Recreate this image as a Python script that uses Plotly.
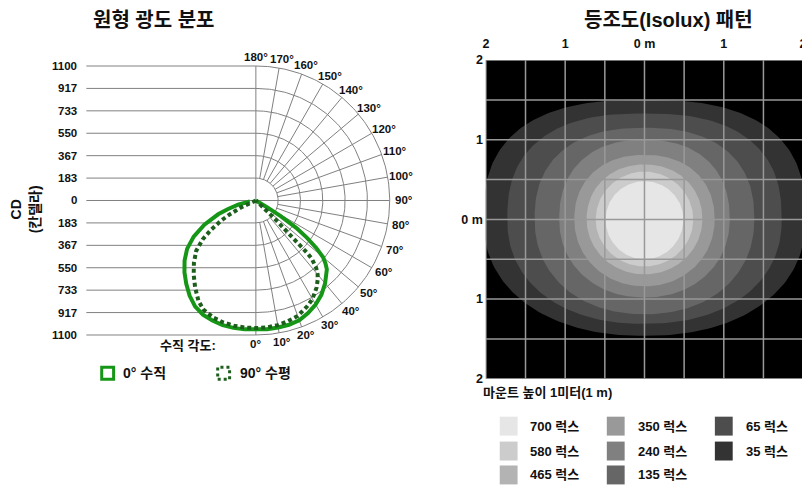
import numpy as np
import plotly.graph_objects as go

W, H = 810, 488
OX, OY = 8, 8          # page body margin offset
SY, AY = 0.975, 5.0    # measured vertical mapping of the photographed page
FONT = "Arial, 'Liberation Sans', 'Noto Sans CJK KR', sans-serif"

# ---------------- Data: luminous intensity distribution (left) ----------------
ring_cd = [183.3, 366.7, 550.0, 733.3, 916.7, 1100.0]
cd_tick_values = [1100, 916.7, 733.3, 550, 366.7, 183.3, 0, -183.3, -366.7, -550, -733.3, -916.7, -1100]
cd_tick_labels = ["1100", "917", "733", "550", "367", "183", "0", "183", "367", "550", "733", "917", "1100"]
angle_ticks = [0, 10, 20, 30, 40, 50, 60, 70, 80, 90, 100, 110, 120, 130, 140, 150, 160, 170, 180]

# 0° vertical plane (negative angle = left half)
vert_angle = [-80, -77, -73, -70, -65, -60, -55, -50, -45, -40, -35, -30, -25, -20, -15, -10, -5, 0,
              5, 10, 15, 20, 25, 30, 35, 40, 44, 46, 48, 50, 52, 54, 56, 58, 59, 60]
vert_cd = [50, 150, 243, 330, 467, 590, 690, 765, 830, 890, 950, 1000, 1030, 1045, 1055, 1058, 1058, 1057,
           1057, 1055, 1052, 1042, 1015, 982, 940, 885, 838, 811, 770, 720, 630, 520, 400, 240, 110, 0]

# 90° horizontal plane
horiz_angle = [-68, -65, -62, -60, -57, -54, -50, -45, -40, -35, -30, -26, -20, -15, -10, -5, 0,
               5, 10, 15, 20, 26, 30, 35, 38, 40, 42, 43, 44, 44.5, 45, 45.5, 46, 46.5, 47]
horiz_cd = [0, 136, 250, 332, 440, 540, 640, 720, 795, 870, 945, 990, 1020, 1033, 1040, 1043, 1043,
            1042, 1035, 1022, 1005, 963, 930, 870, 825, 790, 740, 705, 660, 600, 480, 350, 220, 90, 0]

# ---------------- Data: isolux pattern (right) ----------------
iso_levels = [700, 580, 465, 350, 240, 135, 65, 35]
iso_colors = ["#e6e6e6", "#cccccc", "#b3b3b3", "#999999", "#808080", "#666666", "#4d4d4d", "#333333"]
iso_half_width = [0.49, 0.615, 0.73, 0.885, 1.075, 1.385, 1.73, 2.03]
iso_top = [0.48, 0.60, 0.69, 0.81, 1.00, 1.15, 1.33, 1.50]
iso_bottom = [-0.50, -0.59, -0.69, -0.84, -0.98, -1.19, -1.31, -1.46]
iso_top_shape = [2.0, 2.0, 2.1, 2.2, 2.3, 2.4, 2.5, 2.6]
iso_bottom_shape = [2.0, 2.0, 2.0, 2.05, 2.1, 2.15, 2.2, 2.2]
iso_ticks = [-2, -1, 0, 1, 2]
iso_tick_labels = ["2", "1", "0 m", "1", "2"]
iso_grid = [-2, -1.5, -1, -0.5, 0, 0.5, 1, 1.5, 2]

# ---------------- Geometry helpers (screen pixels) ----------------
CX, CY, R_PX = 255, 199, 135.0
K = R_PX / 1100.0  # screen px per cd


def pxx(x):
    return (x - OX) / W


def pxy(y):
    return 1 - ((y - AY) / SY - OY) / H


def polar_xy(angles, cds):
    a = np.radians(np.asarray(angles, dtype=float))
    r = np.asarray(cds, dtype=float)
    return r * np.sin(a), -r * np.cos(a)


fig = go.Figure()

# ---- left grid ----
GRID = "#808080"
grid_left_x = (84 - CX) / K
gx, gy = [], []
for v in cd_tick_values:
    gx += [grid_left_x, 1100 if v == 0 else 0, None]
    gy += [v, v, None]
gx += [0, 0, None]
gy += [-1100, 1100, None]
th = np.radians(np.linspace(0, 180, 181))
for r in ring_cd:
    gx += list(r * np.sin(th)) + [None]
    gy += list(-r * np.cos(th)) + [None]
for a in angle_ticks:
    if a in (0, 90, 180):
        continue
    t = np.radians(a)
    gx += [ring_cd[0] * np.sin(t), ring_cd[-1] * np.sin(t), None]
    gy += [-ring_cd[0] * np.cos(t), -ring_cd[-1] * np.cos(t), None]
fig.add_trace(go.Scatter(x=gx, y=gy, mode="lines", line=dict(color=GRID, width=1),
                         hoverinfo="skip", xaxis="x", yaxis="y"))

vx, vy = polar_xy(vert_angle, vert_cd)
fig.add_trace(go.Scatter(x=vx, y=vy, mode="lines", line=dict(color="#169616", width=4),
                         name="0° 수직", xaxis="x", yaxis="y"))
hx, hy = polar_xy(horiz_angle, horiz_cd)
fig.add_trace(go.Scatter(x=hx, y=hy, mode="lines",
                         line=dict(color="#1d5e1d", width=4, dash="4px,3px"),
                         name="90° 수평", xaxis="x", yaxis="y"))

# ---- right isolux ----
for i in reversed(range(len(iso_levels))):
    a = iso_half_width[i]
    nt, nb = iso_top_shape[i], iso_bottom_shape[i]
    t1 = np.linspace(0, np.pi, 121)
    t2 = np.linspace(np.pi, 2 * np.pi, 121)
    xs = np.concatenate([a * np.sign(np.cos(t1)) * np.abs(np.cos(t1)) ** (2 / nt),
                         a * np.sign(np.cos(t2)) * np.abs(np.cos(t2)) ** (2 / nb)])
    ys = np.concatenate([iso_top[i] * np.abs(np.sin(t1)) ** (2 / nt),
                         iso_bottom[i] * np.abs(np.sin(t2)) ** (2 / nb)])
    fig.add_trace(go.Scatter(x=xs, y=ys, mode="lines", fill="toself", fillcolor=iso_colors[i],
                             line=dict(width=0, color=iso_colors[i]), name=f"{iso_levels[i]} 럭스",
                             hoverinfo="skip", xaxis="x2", yaxis="y2"))

shapes = [dict(type="rect", xref="x2 domain", yref="y2 domain", x0=0, x1=1, y0=0, y1=1,
               fillcolor="black", line=dict(width=0), layer="below")]
for g in iso_grid:
    shapes.append(dict(type="line", xref="x2", yref="y2", x0=g, x1=g, y0=-2, y1=2,
                       line=dict(color="#999999", width=1.5), layer="above"))
    shapes.append(dict(type="line", xref="x2", yref="y2", x0=-2, x1=2, y0=g, y1=g,
                       line=dict(color="#999999", width=1.5), layer="above"))

# legend squares left
shapes.append(dict(type="rect", xref="paper", yref="paper", x0=pxx(99.5), x1=pxx(111.5),
                   y0=pxy(378.5), y1=pxy(366.5), line=dict(color="#169616", width=3)))
shapes.append(dict(type="rect", xref="paper", yref="paper", x0=pxx(216.5), x1=pxx(228.5),
                   y0=pxy(378.5), y1=pxy(366.5), line=dict(color="#1d5e1d", width=3, dash="3px,3px")))

# legend squares right
col_x = [501, 609, 718]
row_y = [416, 441, 465]
annotations = []
for i, lvl in enumerate(iso_levels):
    c, rr = divmod(i, 3)
    x0, y0 = col_x[c], row_y[rr]
    shapes.append(dict(type="rect", xref="paper", yref="paper", x0=pxx(x0), x1=pxx(x0 + 18),
                       y0=pxy(y0 + 19), y1=pxy(y0), fillcolor=iso_colors[i], line=dict(width=0)))
    annotations.append(dict(text=f"<b>{lvl} 럭스</b>", xref="paper", yref="paper",
                            x=pxx(x0 + 29), y=pxy(y0 + 9.5), xanchor="left", yanchor="middle",
                            showarrow=False, font=dict(size=13, color="#111")))

# left tick labels
for v, lab in zip(cd_tick_values, cd_tick_labels):
    annotations.append(dict(text=f"<b>{lab}</b>", xref="x", yref="y", x=grid_left_x, y=v,
                            xanchor="right", yanchor="middle", xshift=-7, showarrow=False,
                            font=dict(size=11.5, color="#111")))
# angle labels
for a in angle_ticks:
    t = np.radians(a)
    annotations.append(dict(text=f"<b>{a}°</b>", xref="x", yref="y", x=1215 * np.sin(t),
                            y=-1175 * np.cos(t), xanchor="center", yanchor="middle",
                            showarrow=False, font=dict(size=11.5, color="#111")))

annotations += [
    dict(text="<b>원형 광도 분포</b>", xref="paper", yref="paper", x=pxx(152), y=pxy(18),
         xanchor="center", yanchor="middle", showarrow=False, font=dict(size=20, color="#111")),
    dict(text="<b>등조도(Isolux) 패턴</b>", xref="paper", yref="paper", x=pxx(671), y=pxy(18),
         xanchor="center", yanchor="middle", showarrow=False, font=dict(size=20, color="#111")),
    dict(text="<b>CD</b><br><b>(칸델라)</b>", xref="paper", yref="paper", x=pxx(23), y=pxy(208),
         xanchor="center", yanchor="middle", textangle=-90, showarrow=False,
         font=dict(size=14, color="#111")),
    dict(text="<b>수직 각도:</b>", xref="paper", yref="paper", x=pxx(217), y=pxy(345),
         xanchor="right", yanchor="middle", showarrow=False, font=dict(size=13, color="#111")),
    dict(text="<b>0° 수직</b>", xref="paper", yref="paper", x=pxx(119), y=pxy(372),
         xanchor="left", yanchor="middle", showarrow=False, font=dict(size=14, color="#111")),
    dict(text="<b>90° 수평</b>", xref="paper", yref="paper", x=pxx(237), y=pxy(372),
         xanchor="left", yanchor="middle", showarrow=False, font=dict(size=14, color="#111")),
    dict(text="<b>마운트 높이 1미터(1 m)</b>", xref="paper", yref="paper", x=pxx(482), y=pxy(392),
         xanchor="left", yanchor="middle", showarrow=False, font=dict(size=13, color="#111")),
]

fig.update_layout(
    width=W, height=H, margin=dict(l=0, r=0, t=0, b=0),
    paper_bgcolor="white", plot_bgcolor="white", showlegend=False, hovermode=False,
    font=dict(family=FONT, color="#111"),
    xaxis=dict(domain=[pxx(80), pxx(418)], range=[(80 - CX) / K, (418 - CX) / K],
               visible=False, fixedrange=True),
    yaxis=dict(domain=[pxy(348), pxy(42)], range=[(CY - 348) / K, (CY - 42) / K],
               visible=False, fixedrange=True),
    xaxis2=dict(domain=[pxx(487), pxx(807)], range=[-2, 2], anchor="y2", side="top",
                showgrid=False, zeroline=False, showline=False, ticks="",
                ticklabelstandoff=9, fixedrange=True,
                tickvals=iso_ticks, ticktext=[f"<b>{t}</b>" for t in iso_tick_labels],
                tickfont=dict(size=12.5, color="#111")),
    yaxis2=dict(domain=[pxy(378), pxy(58)], range=[-2, 2], anchor="x2",
                showgrid=False, zeroline=False, showline=False, ticks="",
                ticklabelstandoff=2, fixedrange=True,
                tickvals=[2, 1, 0, -1, -2], ticktext=[f"<b>{t}</b>" for t in iso_tick_labels],
                tickfont=dict(size=12.5, color="#111")),
    shapes=shapes, annotations=annotations,
)

fig.write_html("out.html", config={"displayModeBar": False})
